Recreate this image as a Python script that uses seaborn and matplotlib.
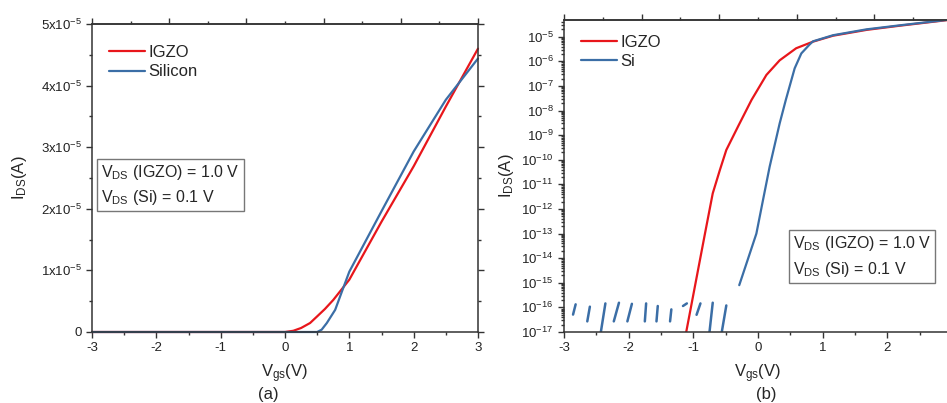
import numpy as np
import pandas as pd
import matplotlib
matplotlib.use("Agg")
import matplotlib.pyplot as plt
import matplotlib.ticker as mticker
import seaborn as sns

# (a) linear transfer curves, I_DS in units of 1e-5 A
igzo_lin_vgs = [-3.0, 0.0, 0.13, 0.25, 0.39, 0.5, 0.62, 0.75, 1.0, 1.5, 2.0, 2.5, 3.0]
igzo_lin_ids = [0.0, 0.0, 0.02, 0.065, 0.146, 0.254, 0.373, 0.52, 0.85, 1.79, 2.69, 3.66, 4.6]
si_lin_vgs = [-3.0, 0.5, 0.57, 0.65, 0.78, 0.9, 1.0, 1.25, 1.5, 2.0, 2.5, 3.0]
si_lin_ids = [0.0, 0.0, 0.038, 0.146, 0.36, 0.7, 0.98, 1.47, 1.96, 2.93, 3.77, 4.44]

# (b) log transfer curves, I_DS in A
igzo_log_vgs = [-1.11, -0.82, -0.70, -0.59, -0.49, -0.30, -0.10, 0.13, 0.335, 0.59, 0.85, 1.16, 1.68, 2.19, 3.0]
igzo_log_ids = [1e-17, 1e-13, 4.3e-12, 3.8e-11, 2.5e-10, 2.5e-9, 2.7e-8, 2.8e-7, 1.1e-6, 3.4e-6, 6.3e-6, 1.1e-5, 1.9e-5, 2.8e-5, 5.0e-5]
si_log_vgs = [-0.29, -0.16, -0.025, 0.08, 0.18, 0.335, 0.43, 0.567, 0.67, 0.80, 0.85, 1.16, 1.68, 2.19, 3.0]
si_log_ids = [8e-16, 8.5e-15, 1e-13, 2.5e-12, 5.2e-11, 3e-9, 2.7e-8, 5.2e-7, 2.1e-6, 4.9e-6, 6.5e-6, 1.15e-5, 2e-5, 2.9e-5, 5.1e-5]

# Si noise floor: short positive-current fragments
noise_vgs_bot = [-2.86, -2.64, -2.43, -2.23, -2.02, -1.75, -1.57, -1.36, -1.16, -0.95, -0.75, -0.56]
noise_vgs_top = [-2.82, -2.60, -2.36, -2.15, -1.95, -1.73, -1.55, -1.34, -1.10, -0.89, -0.70, -0.49]
noise_ids_bot = [5.1e-17, 2.7e-17, 1e-17, 2.7e-17, 2.7e-17, 2.7e-17, 2.7e-17, 2.7e-17, 1.14e-16, 5e-17, 1e-17, 1e-17]
noise_ids_top = [1.33e-16, 1.07e-16, 1.45e-16, 1.55e-16, 1.4e-16, 1.45e-16, 1.14e-16, 8.3e-17, 1.45e-16, 1.45e-16, 1.55e-16, 1.2e-16]

RED = "#e8161b"
BLUE = "#3b6ea6"

sns.set_style("ticks")
plt.rcParams["font.family"] = ["Liberation Sans", "DejaVu Sans"]
plt.rcParams["mathtext.fontset"] = "custom"
plt.rcParams["mathtext.rm"] = "Liberation Sans"
plt.rcParams["mathtext.it"] = "Liberation Sans:italic"
plt.rcParams["mathtext.bf"] = "Liberation Sans:bold"

fig = plt.figure(figsize=(9.47, 4.03), dpi=100)
ax1 = fig.add_axes([92 / 947, 1 - 332 / 403, 386 / 947, 308 / 403])
ax2 = fig.add_axes([564 / 947, 1 - 332 / 403, 388 / 947, 312 / 403])

box_text = (r"V$_\mathregular{DS}$ (IGZO) = 1.0 V" + "\n" +
            r"V$_\mathregular{DS}$ (Si) = 0.1 V")
bbox = dict(boxstyle="square,pad=0.25", facecolor="white", edgecolor="#777777", linewidth=1)


def style_axes(ax):
    for s in ax.spines.values():
        s.set_color("#333333")
        s.set_linewidth(1.1)
    ax.tick_params(which="both", direction="out", colors="#333333", labelcolor="#222222",
                   labelsize=9.5, right=True)
    ax.tick_params(which="major", length=4, width=1)
    ax.tick_params(which="minor", length=2.5, width=1)
    ax.set_xlim(-3, 3)
    ax.xaxis.set_major_locator(mticker.MultipleLocator(1))
    ax.xaxis.set_minor_locator(mticker.MultipleLocator(0.5))
    top = ax.secondary_xaxis("top")
    top.set_xticks([-3, -1.8, -0.6, 0.6, 1.8, 3])
    top.set_xticks([-2.4, -1.2, 0, 1.2, 2.4], minor=True)
    top.set_xticklabels([])
    top.tick_params(which="both", direction="out", colors="#333333")
    top.tick_params(which="major", length=4, width=1)
    top.tick_params(which="minor", length=2.5, width=1)
    top.spines["top"].set_color("#333333")
    top.spines["top"].set_linewidth(1.1)
    ax.set_xlabel(r"V$_\mathregular{gs}$(V)", fontsize=12, labelpad=6)
    ax.set_ylabel(r"I$_\mathregular{DS}$(A)", fontsize=12)


# (a) linear
df_lin = pd.concat([
    pd.DataFrame({"vgs": igzo_lin_vgs, "ids": np.array(igzo_lin_ids) * 1e-5, "dev": "IGZO"}),
    pd.DataFrame({"vgs": si_lin_vgs, "ids": np.array(si_lin_ids) * 1e-5, "dev": "Silicon"}),
])
sns.lineplot(data=df_lin, x="vgs", y="ids", hue="dev", palette=[RED, BLUE],
             linewidth=1.6, sort=False, estimator=None, ax=ax1)
for ln in ax1.lines:
    ln.set_clip_on(False)
style_axes(ax1)
ax1.xaxis.set_major_formatter(mticker.FuncFormatter(lambda v, p: f"{v:.0f}"))
ax1.set_ylim(0, 5e-5)
ax1.yaxis.set_major_locator(mticker.MultipleLocator(1e-5))
ax1.yaxis.set_minor_locator(mticker.MultipleLocator(0.5e-5))


def sci_fmt(v, p):
    m = int(round(v / 1e-5))
    if m == 0:
        return "0"
    return r"$\mathregular{%dx10^{-5}}$" % m


ax1.yaxis.set_major_formatter(mticker.FuncFormatter(sci_fmt))
ax1.yaxis.labelpad = 8
ax1.legend(loc="upper left", bbox_to_anchor=(0.0, 0.985), frameon=False, fontsize=12,
           handlelength=2.2, handletextpad=0.2, labelspacing=0.25, borderaxespad=0.6)
ax1.text(0.024, 0.55, box_text, transform=ax1.transAxes, fontsize=11.5, va="top", ha="left",
         linespacing=1.45, bbox=bbox)

# (b) log
df_log = pd.concat([
    pd.DataFrame({"vgs": igzo_log_vgs, "ids": igzo_log_ids, "dev": "IGZO"}),
    pd.DataFrame({"vgs": si_log_vgs, "ids": si_log_ids, "dev": "Si"}),
])
sns.lineplot(data=df_log, x="vgs", y="ids", hue="dev", palette=[RED, BLUE],
             linewidth=1.6, sort=False, estimator=None, ax=ax2)
n = len(noise_vgs_bot)
df_noise = pd.DataFrame({
    "vgs": noise_vgs_bot + noise_vgs_top,
    "ids": noise_ids_bot + noise_ids_top,
    "seg": list(range(n)) * 2,
})
sns.lineplot(data=df_noise, x="vgs", y="ids", units="seg", estimator=None, color=BLUE,
             linewidth=1.8, sort=False, ax=ax2, legend=False)
ax2.set_yscale("log")
style_axes(ax2)
# the panel runs past the right edge of the image; its "3" label is cut away
ax2.xaxis.set_major_formatter(mticker.FuncFormatter(lambda v, p: "" if v > 2.5 else f"{v:.0f}"))
ax2.set_ylim(1e-17, 10 ** -4.32)
ax2.yaxis.set_major_locator(mticker.LogLocator(base=10, numticks=20))
ax2.yaxis.set_minor_locator(mticker.LogLocator(base=10, subs=np.arange(2, 10) * 1.0, numticks=20))
ax2.yaxis.set_minor_formatter(mticker.NullFormatter())
ax2.yaxis.labelpad = 4
ax2.legend(loc="upper left", bbox_to_anchor=(0.0, 1.005), frameon=False, fontsize=12,
           handlelength=2.2, handletextpad=0.2, labelspacing=0.25, borderaxespad=0.6)
ax2.text(0.59, 0.313, box_text, transform=ax2.transAxes, fontsize=11.5, va="top", ha="left",
         linespacing=1.45, bbox=bbox)

fig.text(268 / 947, 1 - 395 / 403, "(a)", fontsize=12, ha="center", va="center")
fig.text(766 / 947, 1 - 395 / 403, "(b)", fontsize=12, ha="center", va="center")

fig.savefig("out.png", dpi=100)
